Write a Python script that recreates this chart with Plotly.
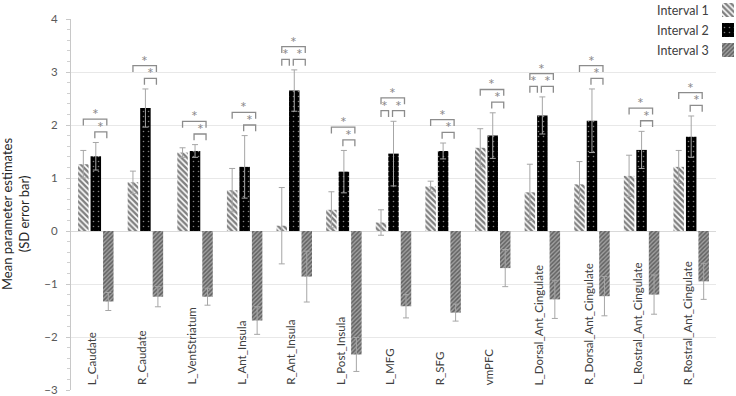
import plotly.graph_objects as go

categories = ["L_Caudate", "R_Caudate", "L_VentStriatum", "L_Ant_Insula", "R_Ant_Insula",
              "L_Post_Insula", "L_MFG", "R_SFG", "vmPFC", "L_Dorsal_Ant_Cingulate",
              "R_Dorsal_Ant_Cingulate", "L_Rostral_Ant_Cingulate", "R_Rostral_Ant_Cingulate"]
series_names = ["Interval 1", "Interval 2", "Interval 3"]
interval1 = [1.26, 0.92, 1.48, 0.77, 0.10, 0.40, 0.16, 0.84, 1.57, 0.73, 0.88, 1.04, 1.21]
interval1_sd = [0.26, 0.21, 0.09, 0.41, 0.72, 0.34, 0.24, 0.10, 0.36, 0.53, 0.43, 0.39, 0.31]
interval2 = [1.41, 2.32, 1.51, 1.21, 2.65, 1.12, 1.46, 1.51, 1.80, 2.18, 2.08, 1.53, 1.78]
interval2_sd = [0.26, 0.36, 0.12, 0.59, 0.39, 0.40, 0.61, 0.15, 0.43, 0.35, 0.60, 0.35, 0.39]
interval3 = [-1.33, -1.24, -1.24, -1.69, -0.86, -2.33, -1.42, -1.54, -0.70, -1.29, -1.23, -1.20, -0.95]
interval3_sd = [0.17, 0.19, 0.16, 0.26, 0.48, 0.32, 0.22, 0.16, 0.35, 0.36, 0.37, 0.37, 0.34]
# significant pairs per category (indices of intervals)
two_pairs = [(1, 2), (0, 2)]
three_pairs = [(0, 1), (1, 2), (0, 2)]
significance = [two_pairs, two_pairs, two_pairs, two_pairs, three_pairs, two_pairs, three_pairs,
                two_pairs, two_pairs, three_pairs, two_pairs, two_pairs, two_pairs]
y_ticks = [-3, -2, -1, 0, 1, 2, 3, 4]

values = [interval1, interval2, interval3]
sds = [interval1_sd, interval2_sd, interval3_sd]

patterns = [
    dict(shape="\\", fgcolor="black", bgcolor="white", size=4, solidity=0.6),
    dict(shape=".", fgcolor="white", bgcolor="black", size=5, solidity=0.08),
    dict(shape="/", fgcolor="#222222", bgcolor="#a0a0a0", size=3, solidity=0.5),
]

BARGAP = 0.245
GROUPGAP = 0.16
slot = (1 - BARGAP) / 3
n = len(categories)
xs = list(range(n))
FONT = "Lato, 'Open Sans', sans-serif"
GRAY = "#8c8c8c"
H = 396
B = 6
PH = H - B  # plot height in px (t=0)

fig = go.Figure()
for k in range(3):
    fig.add_trace(go.Bar(
        x=xs, y=values[k], name=series_names[k],
        width=slot * (1 - GROUPGAP), offset=(k - 1) * slot - slot * (1 - GROUPGAP) / 2,
        marker=dict(color="black" if k == 1 else "white", pattern=patterns[k], line=dict(width=0)),
        error_y=dict(type="data", array=sds[k], visible=True, color="#a6a6a6", thickness=1, width=3),
        xaxis="x", yaxis="y", showlegend=False,
    ))

# significance brackets (derived from data)
bx, by = [], []
annotations = []
for i, pairs in enumerate(significance):
    tops = [values[k][i] + sds[k][i] for k in range(3)]
    top = max(tops)
    small = top + 0.2
    big = small + 0.24
    leg = 0.12
    for (a, b) in pairs:
        lvl = big if (a, b) == (0, 2) else small
        xa = i + (a - 1) * slot
        xb = i + (b - 1) * slot
        if (a, b) == (0, 1) and len(pairs) == 3:
            xb -= 0.07
        if (a, b) == (1, 2):
            xa -= 0.02
        xb -= 0.03
        bx += [xa, xa, xb, xb, None]
        by += [lvl - leg, lvl, lvl, lvl - leg, None]
        annotations.append(dict(x=(xa + xb) / 2, y=lvl, xref="x", yref="y", text="*",
                                showarrow=False, yanchor="bottom", yshift=-6,
                                font=dict(family=FONT, size=16, color=GRAY)))
fig.add_trace(go.Scatter(x=bx, y=by, mode="lines", line=dict(color=GRAY, width=1.3),
                         hoverinfo="skip", showlegend=False, xaxis="x", yaxis="y"))

# category labels inside plot, rotated
for i, c in enumerate(categories):
    annotations.append(dict(x=i - 0.08, y=-3, xref="x", yref="y", text=c, textangle=-90,
                            showarrow=False, yanchor="bottom", xanchor="center", yshift=3,
                            font=dict(family=FONT, size=11.5, color="#404040")))

# y-axis title
annotations.append(dict(x=0, y=(PH - 214) / PH, xref="paper", yref="paper",
                        text="Mean parameter estimates<br>(SD error bar)", textangle=-90,
                        showarrow=False, xanchor="center", yanchor="middle", xshift=-56,
                        font=dict(family=FONT, size=13, color="#262626")))

# custom legend (text left, swatch right)
for k in range(3):
    fig.add_trace(go.Bar(
        x=[0.5], y=[0.7], base=[k - 0.35], width=[1.0],
        marker=dict(color="black" if k == 1 else "white", pattern=patterns[k], line=dict(width=0)),
        xaxis="x2", yaxis="y2", showlegend=False, hoverinfo="skip",
    ))
    annotations.append(dict(x=(711 - 71) / 665, y=k, xref="paper", yref="y2", text=series_names[k],
                            showarrow=False, xanchor="right", yanchor="middle",
                            font=dict(family=FONT, size=12.5, color="#404040")))

fig.update_layout(
    width=736, height=H,
    margin=dict(l=71, r=0, t=0, b=B, autoexpand=False),
    plot_bgcolor="white", paper_bgcolor="white",
    barmode="overlay",
    showlegend=False,
    annotations=annotations,
    xaxis=dict(domain=[0, 645 / 665], range=[-0.5, n - 0.5], showticklabels=False,
               showgrid=False, zeroline=False, showline=False, ticks=""),
    yaxis=dict(domain=[0, (PH - 19) / PH], range=[-3, 4], tickvals=y_ticks, automargin=False,
               showgrid=True, gridcolor="#e8e8e8", gridwidth=1,
               zeroline=True, zerolinecolor="#d9d9d9", zerolinewidth=1,
               showline=True, linecolor="#c8c8c8", linewidth=1,
               ticks="outside", ticklen=4, tickcolor="#c8c8c8",
               minor=dict(dtick=0.2, ticks="outside", ticklen=3, tickcolor="#d0d0d0", showgrid=False),
               tickfont=dict(family=FONT, size=11.5, color="#595959"), ticklabelstandoff=6,
               ticklabeloverflow="allow"),
    xaxis2=dict(domain=[(722 - 71) / 665, (734 - 71) / 665], range=[0, 1], visible=False,
                anchor="y2", automargin=False),
    yaxis2=dict(domain=[(PH - 60) / PH, 1.0], range=[2.5, -0.5], visible=False, anchor="x2",
                automargin=False),
)

fig.write_html("out.html", config={"displayModeBar": False},
               post_script="document.body.style.margin='0';document.body.style.overflow='hidden';")
